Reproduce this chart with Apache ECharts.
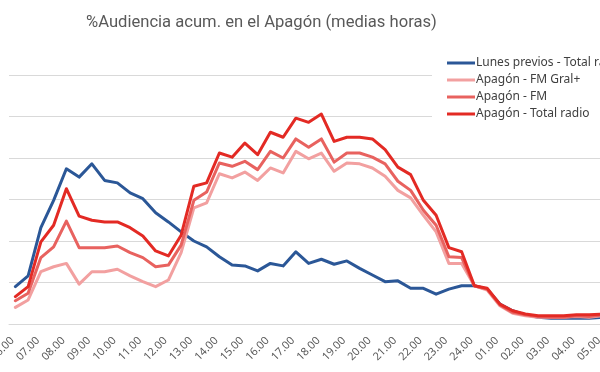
<!DOCTYPE html>
<html>
<head>
<meta charset="utf-8">
<script src="https://cdn.jsdelivr.net/npm/echarts@6/dist/echarts.min.js"></script>
<style>
html,body{margin:0;padding:0;background:#fff;}
#c{width:600px;height:372px;}
</style>
</head>
<body>
<div id="c"></div>
<script>
var categories = [
 '06.00','06.30','07.00','07.30','08.00','08.30','09.00','09.30','10.00','10.30',
 '11.00','11.30','12.00','12.30','13.00','13.30','14.00','14.30','15.00','15.30',
 '16.00','16.30','17.00','17.30','18.00','18.30','19.00','19.30','20.00','20.30',
 '21.00','21.30','22.00','22.30','23.00','23.30','24.00','00.30','01.00','01.30',
 '02.00','02.30','03.00','03.30','04.00','04.30','05.00','05.30'
];
var lunesPrevios = [4.5,5.8,11.6,14.9,18.7,17.7,19.3,17.3,17.0,15.8,15.1,13.4,12.3,11.1,10.0,9.3,8.1,7.1,7.0,6.4,7.3,7.0,8.7,7.3,7.8,7.2,7.6,6.7,5.9,5.1,5.2,4.3,4.3,3.6,4.2,4.6,4.6,4.2,2.4,1.6,1.1,0.8,0.7,0.7,0.7,0.7,0.8,0.8];
var fmGral = [2.0,2.9,6.3,6.9,7.3,4.8,6.3,6.3,6.6,5.8,5.1,4.5,5.3,8.6,14.0,14.6,18.1,17.6,18.3,17.3,18.8,18.2,20.8,19.9,20.6,18.4,19.4,19.3,18.8,17.8,16.1,15.2,13.1,11.1,7.3,7.3,4.6,4.1,2.2,1.3,1.0,0.8,0.8,0.8,0.9,0.8,1.0,1.0];
var fm = [2.8,3.7,8.0,9.3,12.4,9.2,9.2,9.2,9.4,8.6,8.0,6.9,7.1,9.5,14.9,15.9,19.4,19.0,19.6,18.6,20.8,20.0,22.3,21.3,22.3,19.5,20.6,20.6,20.1,19.3,17.2,16.1,13.7,11.9,8.1,8.0,4.6,4.2,2.3,1.4,1.1,0.9,0.8,0.8,1.0,0.9,1.1,1.1];
var totalRadio = [3.3,4.5,9.9,11.9,16.3,13.0,12.5,12.3,12.3,11.6,10.6,8.8,8.2,10.7,16.6,17.0,20.6,20.1,21.8,20.4,23.1,22.5,24.8,24.3,25.3,22.0,22.5,22.5,22.3,21.0,18.9,18.0,14.9,13.1,9.2,8.7,4.6,4.3,2.4,1.6,1.2,1.0,1.0,1.0,1.1,1.1,1.2,1.2];
var seriesNames = ['Lunes previos - Total radio','Apagón - FM Gral+','Apagón - FM','Apagón - Total radio'];
var seriesColors = ['#2b5797','#f2a0a0','#e8625f','#e32a24'];
var seriesData = [lunesPrevios, fmGral, fm, totalRadio];

var chart = echarts.init(document.getElementById('c'), null, {renderer:'canvas'});
var series = seriesData.map(function(d,i){
  return {
    name: seriesNames[i], type:'line', data:d, symbol:'none', smooth:false,
    lineStyle:{width:3, color:seriesColors[i], join:'round', cap:'round'},
    itemStyle:{color:seriesColors[i]}, z: 2+i
  };
});
chart.setOption({
  animation:false,
  backgroundColor:'#fff',
  title:{
    text:'%Audiencia acum. en el Apagón (medias horas)',
    left:81, top:9,
    textStyle:{fontFamily:'Roboto', fontSize:16.6, fontWeight:'normal', color:'#595959'}
  },
  legend:{
    orient:'vertical', left:432, top:51,
    padding:[5,0,4,15], itemGap:3, itemWidth:28, itemHeight:3,
    icon:'rect', backgroundColor:'#fff', z:10,
    textStyle:{fontFamily:'Noto Sans', fontSize:12, color:'#404040', padding:[0,0,0,-4], lineHeight:14, height:14},
    data: seriesNames
  },
  grid:{left:9, right:-21, top:75, bottom:48, containLabel:false, outerBoundsMode:'none'},
  xAxis:{
    type:'category', data:categories, boundaryGap:true,
    axisTick:{show:false},
    axisLine:{lineStyle:{color:'#d9d9d9', width:1}},
    axisLabel:{interval:1, rotate:45, margin:12, padding:[0,4,0,0], fontFamily:'Noto Sans', fontSize:11, color:'#595959'}
  },
  yAxis:{
    type:'value', min:0, max:30, interval:5,
    axisLabel:{show:false}, axisLine:{show:false}, axisTick:{show:false},
    splitLine:{lineStyle:{color:'#d9d9d9', width:1}}
  },
  series: series
});
</script>
</body>
</html>
